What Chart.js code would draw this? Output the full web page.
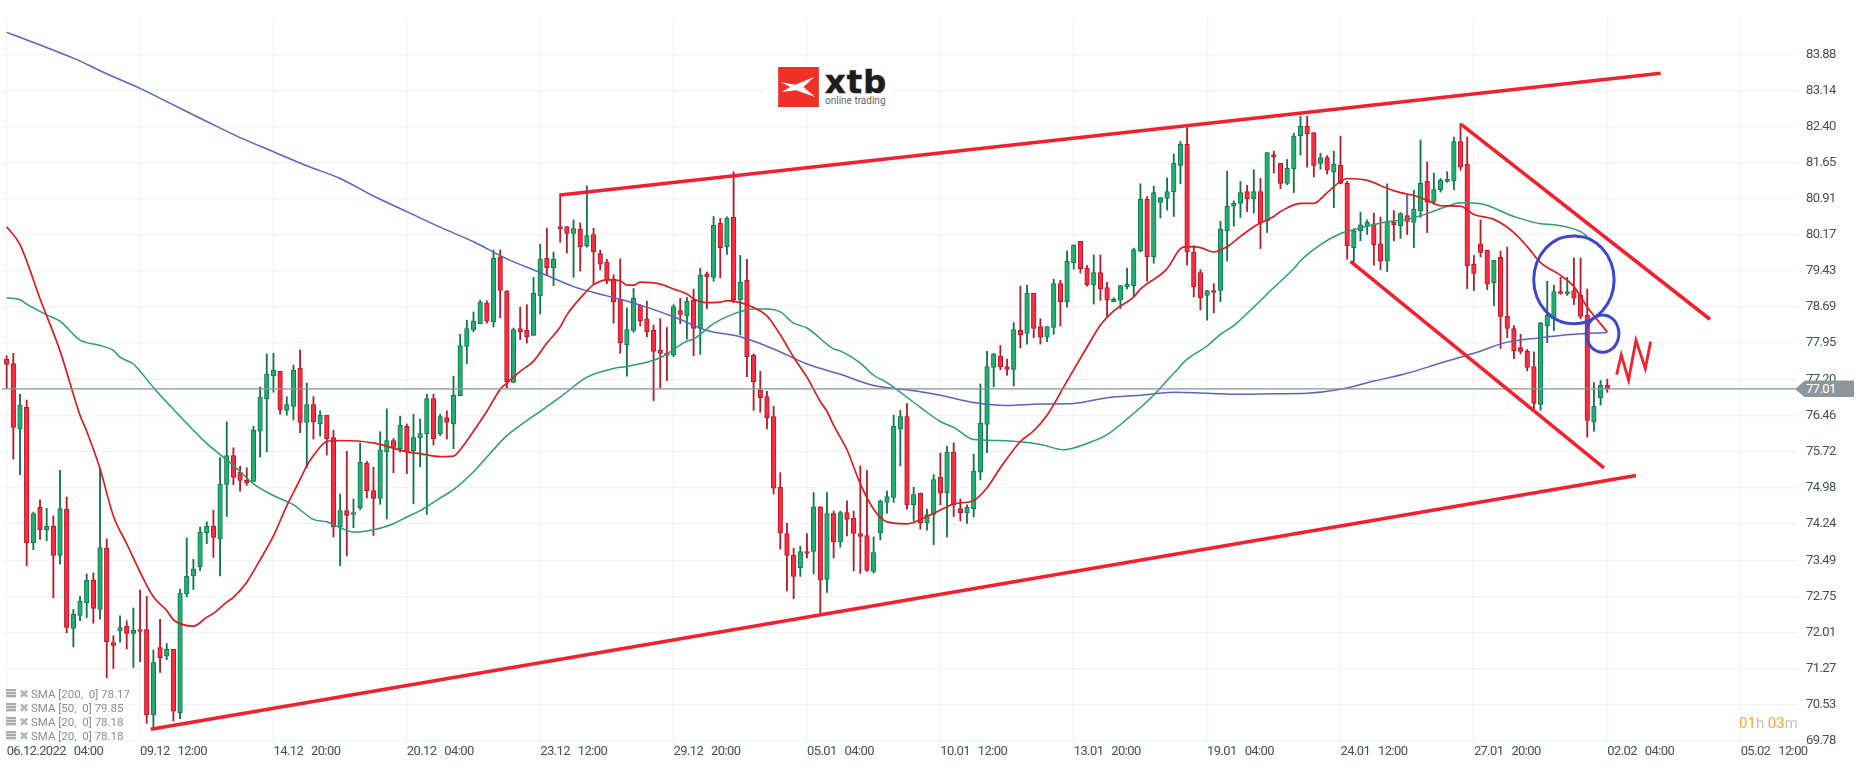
<!DOCTYPE html>
<html><head><meta charset="utf-8">
<script src="https://cdn.jsdelivr.net/npm/chart.js@4"></script>
<style>
html,body{margin:0;padding:0;background:#fff;overflow:hidden;font-family:Roboto,sans-serif}
#wrap{position:relative;width:1866px;height:767px}
canvas{position:absolute;left:0;top:0}
.abs{position:absolute;white-space:pre}
#legend div{position:absolute;left:6px;height:14px;font-size:11.5px;line-height:14px;color:#8d8d8d;white-space:pre}
#legend i{position:absolute;left:0;top:2px;width:10px;height:9px;background:repeating-linear-gradient(#aaa 0 2px,#e2e2e2 2px 3px)}
#legend b{position:absolute;left:13px;top:0;color:#b5b5b5;font:bold 12px "DejaVu Sans"}
#legend span{position:absolute;left:25px}
</style></head><body>
<div id="wrap">
<canvas id="c" width="1866" height="767"></canvas>
<div class="abs" style="left:765px;top:60px;width:128px;height:53px;background:#fff"></div>
<svg class="abs" style="left:778px;top:67px" width="41" height="40" viewBox="54 52 122 120"><rect x="54" y="52" width="122" height="120" fill="#ee3124"/><polygon points="62,97 105,105 162,82 130,112 165,142 108,122 65,127 90,112" fill="#fff"/></svg>
<div class="abs" style="left:825px;top:60px;font:bold 32px 'DejaVu Sans';color:#1d1d1b;line-height:44px;letter-spacing:1.2px;-webkit-text-stroke:.6px #1d1d1b">xtb</div>
<div class="abs" style="left:825px;top:95px;font:10px Roboto;color:#666;line-height:12px">online trading</div>
<div id="legend" class="abs" style="left:0;top:0"></div>
<div id="tag" class="abs" style="left:1795px;width:59px;height:17px;background:#8d979a;clip-path:polygon(0 50%,10px 0,100% 0,100% 100%,10px 100%);color:#fff;font:13px/17px Roboto;letter-spacing:-.6px;padding-left:11px;box-sizing:border-box">77.01</div>
<div class="abs" style="left:1739px;top:715px;font:15px/16px Roboto;color:#c4c4c4"><span style="color:#ffa726">01</span>h <span style="color:#ffa726">03</span>m</div>
</div>
<script>
const opens=[77.62,77.53,76.19,76.63,73.85,74.58,74.12,74.19,73.59,74.54,
72.09,72.36,72.62,73.08,72.48,73.74,71.80,72.04,72.14,71.99,
72.07,72.07,70.32,71.70,71.52,71.66,70.36,72.80,73.17,73.36,
74.06,74.19,73.93,75.05,75.64,75.30,75.13,75.11,76.14,76.81,
77.28,77.37,76.57,76.65,77.43,76.32,76.69,76.29,76.47,76.01,
74.18,74.51,74.43,74.57,75.48,74.92,74.76,75.72,75.95,75.78,
76.24,75.74,76.01,76.09,76.81,76.09,76.42,76.29,76.87,77.88,
78.22,78.35,78.77,78.39,79.71,79.02,77.14,78.25,78.21,78.11,
78.92,79.69,79.50,80.34,80.34,80.20,80.29,79.95,80.18,79.79,
79.61,79.27,78.85,77.92,78.21,78.73,78.45,78.21,77.80,77.74,
77.71,78.62,78.51,78.83,78.25,79.37,79.30,80.41,79.93,80.53,
78.84,79.24,77.70,76.99,76.85,76.44,74.99,74.04,73.59,73.34,
73.67,73.67,74.59,73.10,74.45,73.87,74.47,74.35,74.04,74.00,
73.26,74.06,74.68,74.78,76.19,76.44,74.63,74.87,74.26,74.43,
75.20,74.88,75.71,74.55,74.47,74.55,75.30,76.28,77.45,77.68,
77.47,77.41,78.21,78.15,78.97,78.29,78.07,78.27,79.17,78.80,
79.60,80.04,79.49,79.15,79.40,79.09,78.80,78.83,79.11,79.13,
79.85,80.90,79.72,80.84,80.92,81.06,81.60,82.03,79.82,79.40,
78.93,79.03,79.03,80.26,80.76,80.82,81.06,80.91,81.06,80.46,
81.82,81.64,81.23,81.53,82.21,82.40,82.27,81.64,81.76,81.46,
81.60,81.23,79.91,80.26,80.35,80.40,79.99,79.63,80.43,80.36,
80.57,80.43,80.67,81.27,80.86,81.10,81.27,81.28,82.09,81.62,
79.57,79.99,79.86,79.19,79.71,78.50,78.25,77.86,77.78,77.47,
76.69,78.31,78.45,79.01,78.96,79.03,78.93,78.52,76.33,76.83,
77.09];
const closes=[77.51,76.22,76.67,73.85,74.45,74.12,74.19,73.59,74.55,72.11,
72.38,72.65,73.08,72.50,73.75,71.82,71.74,72.11,71.99,72.05,
72.03,70.32,71.39,71.49,71.66,70.39,72.81,73.16,73.31,74.07,
74.19,73.96,75.05,75.64,75.19,75.13,75.08,76.16,76.84,77.31,
77.39,76.58,76.69,77.39,76.32,76.69,76.33,76.47,75.99,74.18,
74.51,74.41,74.47,75.50,74.92,74.76,75.76,75.95,75.81,76.26,
75.72,76.01,76.09,76.81,75.99,76.44,76.32,76.88,77.90,78.25,
78.40,78.79,78.40,79.69,79.03,77.16,78.23,78.18,78.08,78.97,
79.67,79.50,79.67,80.30,80.20,80.30,79.93,80.16,79.82,79.57,
79.25,78.80,77.96,78.23,78.87,78.41,78.18,77.78,77.74,77.70,
78.70,78.54,78.81,78.25,79.34,79.31,80.37,79.91,80.51,78.84,
79.21,77.67,77.16,76.83,76.42,74.97,74.06,73.59,73.16,73.67,
73.63,74.59,73.08,74.45,73.87,74.47,74.33,74.04,73.98,73.28,
73.65,74.70,74.80,76.24,76.44,74.63,74.84,74.26,74.43,75.15,
74.87,75.71,74.63,74.47,74.58,75.32,76.30,77.47,77.72,77.46,
77.41,78.23,78.12,78.97,78.25,78.07,78.29,79.17,78.80,79.63,
79.96,79.48,79.15,79.40,79.06,78.83,78.85,79.13,79.16,79.87,
80.90,79.72,81.04,80.94,81.06,81.64,82.03,79.82,79.11,78.88,
79.03,78.99,80.29,80.76,80.82,81.04,80.91,81.06,80.42,81.86,
81.78,81.23,81.54,82.20,82.40,82.25,81.60,81.76,81.50,81.62,
81.23,79.95,80.26,80.38,80.43,79.97,79.64,80.44,80.38,80.61,
80.45,80.70,81.23,80.84,81.10,81.29,81.31,82.09,81.56,79.54,
79.38,79.81,79.16,79.65,78.50,78.25,77.79,77.78,77.45,76.71,
78.36,78.52,79.01,78.97,79.01,78.87,78.50,76.36,76.65,77.09,
77.01];
const highs=[77.69,77.74,76.90,76.78,74.48,74.73,74.56,74.40,75.34,74.79,
72.48,72.75,73.21,73.23,75.39,73.93,71.94,72.35,72.25,72.51,
72.88,72.75,71.65,72.28,71.78,71.66,72.90,73.95,73.51,74.17,
74.28,74.52,75.60,76.33,75.80,75.42,75.39,76.24,77.05,77.73,
77.74,77.37,76.85,77.50,77.81,77.13,76.85,76.56,76.47,76.16,
74.85,75.73,74.75,75.90,75.52,75.40,76.13,76.60,75.99,76.45,
76.29,76.49,76.39,76.90,76.90,76.49,76.56,77.27,78.13,78.42,
78.59,78.83,78.82,79.86,79.86,79.03,78.26,78.69,78.74,79.30,
79.98,80.31,79.82,81.02,80.34,80.48,80.42,81.18,80.31,79.86,
79.67,79.35,79.68,78.67,79.07,78.74,78.81,78.32,78.45,78.27,
78.74,78.87,78.89,79.06,79.49,79.41,80.55,80.51,80.54,81.47,
79.75,79.67,77.73,77.37,76.96,76.65,75.29,74.25,73.74,73.78,
74.04,74.88,74.59,74.88,74.50,74.50,74.71,74.50,75.43,75.34,
73.97,74.73,74.91,76.47,76.57,76.71,74.99,74.87,74.54,75.25,
75.69,75.83,75.90,74.75,74.63,75.67,77.11,77.78,77.74,77.90,
77.62,78.37,79.12,79.14,78.97,78.45,78.29,79.26,79.24,79.84,
79.97,80.04,79.54,79.76,79.76,79.20,78.88,79.13,79.49,79.90,
81.22,80.96,81.17,80.94,81.34,81.83,82.09,82.41,79.95,79.46,
79.03,79.17,80.45,81.48,80.87,81.27,81.19,81.51,81.33,81.86,
81.89,81.64,81.72,82.26,82.61,82.61,82.27,81.85,81.80,81.89,
82.20,81.27,80.30,80.64,80.48,80.62,80.54,81.22,80.67,80.63,
80.99,81.09,82.12,81.67,81.44,81.33,81.47,82.18,82.46,82.18,
79.75,80.48,79.86,79.65,79.84,79.92,78.31,78.13,77.82,77.77,
78.38,79.22,79.14,79.30,79.30,79.70,79.70,79.06,77.14,77.18,
77.21];
const lows=[77.03,75.57,75.25,73.38,73.71,73.92,73.89,72.72,73.41,72.00,
71.71,72.25,72.31,72.20,72.28,71.08,71.27,71.81,71.67,71.29,
71.41,70.14,70.03,71.19,71.45,70.19,70.24,72.74,72.89,73.28,
73.83,73.55,73.17,74.39,75.04,74.91,75.03,75.10,75.61,75.72,
76.94,76.49,76.47,76.37,76.11,75.39,75.98,76.04,75.65,73.97,
73.38,73.58,74.16,74.53,74.77,74.00,74.64,74.34,75.29,75.71,
75.27,74.65,75.41,74.43,75.86,76.05,75.98,75.78,76.87,77.53,
78.18,78.35,78.36,78.28,78.47,77.03,77.14,78.02,77.95,78.11,
78.55,79.34,79.13,80.02,79.80,79.30,79.43,79.92,79.15,79.45,
79.17,78.36,77.74,77.27,78.17,78.30,78.08,76.77,77.03,77.18,
77.67,78.35,78.03,77.69,77.72,78.66,79.22,79.29,79.77,78.78,
78.12,77.26,76.57,76.53,76.19,74.85,73.72,72.86,72.70,73.16,
73.54,73.21,72.41,72.83,73.54,73.76,73.99,73.27,73.22,73.26,
73.23,73.91,74.46,74.68,75.43,74.54,74.30,74.13,74.11,73.81,
74.63,73.97,74.39,74.30,74.25,74.38,75.14,75.70,77.05,77.40,
77.29,77.07,77.85,77.93,78.06,77.93,77.98,78.13,78.30,78.69,
79.47,79.39,79.12,78.75,78.83,78.49,78.80,78.66,79.06,78.89,
79.82,79.22,79.59,80.52,80.68,80.55,81.22,79.55,78.90,78.63,
78.42,78.57,78.80,79.64,80.35,80.53,80.65,80.62,79.89,80.22,
81.44,81.12,81.20,81.04,81.81,81.56,81.36,81.52,81.42,80.73,
81.22,79.67,79.62,80.05,80.18,79.55,79.46,79.42,80.05,80.10,
80.18,79.91,80.53,80.22,80.80,81.05,81.25,81.10,81.50,79.07,
79.03,79.72,79.05,78.72,77.84,78.06,77.63,77.73,77.38,76.59,
76.57,77.96,78.21,78.95,78.93,78.74,78.45,76.02,76.14,76.68,
76.94];
const sma20Idx=[0,2,5,8,11,12,14,16,18,20,22,24,25,28,30,31,33,34,36,38,40,42,44,45,46,48,50,55,60,62,65,67,68,70,72,74,75,77,79,81,83,84,87,88,90,92,93,94,95,98,100,102,103,105,107,108,110,112,114,116,118,120,122,123,124,126,128,130,132,135,138,141,142,145,147,149,152,154,156,159,162,164,166,169,170,174,176,177,179,181,183,185,187,190,191,194,196,198,200,201,204,207,209,211,213,215,218,220,223,226,228,230,233,235,237,240];
const sma20=[80.34,79.97,78.86,77.79,76.47,76.14,75.37,74.40,73.83,73.25,72.74,72.46,72.27,72.14,72.32,72.40,72.63,72.73,73.04,73.50,73.99,74.61,75.15,75.43,75.64,75.93,75.95,75.90,75.72,75.68,75.62,75.63,75.76,76.14,76.55,77.00,77.13,77.37,77.58,77.95,78.28,78.53,79.02,79.15,79.25,79.23,79.14,79.14,79.20,79.16,79.06,78.96,78.86,78.78,78.79,78.82,78.78,78.68,78.51,78.12,77.66,77.25,76.75,76.55,76.26,75.76,75.06,74.54,74.28,74.24,74.39,74.59,74.65,74.72,74.98,75.39,75.93,76.15,76.47,77.17,77.87,78.32,78.61,78.90,79.06,79.48,79.89,79.93,79.91,79.82,79.93,80.14,80.34,80.55,80.65,80.82,80.82,81.04,81.27,81.33,81.29,81.13,81.04,80.98,80.88,80.77,80.76,80.59,80.49,80.22,79.93,79.60,79.34,79.11,78.69,78.18];
const sma50Idx=[0,2,3,6,8,11,12,14,16,17,19,20,22,25,30,32,34,37,40,43,46,48,50,52,56,58,60,62,65,67,70,75,77,80,83,87,91,93,98,102,103,106,109,112,114,116,118,120,124,125,128,130,132,137,140,142,145,149,155,158.5,162,165,169,171,175,177,180,182,184,187,190,193,194,197,200,202,207,210,213,216,218,221,226,230,232,236,237];
const sma50=[78.88,78.84,78.75,78.53,78.40,78.01,77.96,77.90,77.80,77.66,77.52,77.37,77.04,76.59,75.89,75.66,75.44,75.06,74.82,74.63,74.33,74.28,74.16,74.07,74.15,74.24,74.38,74.51,74.77,74.94,75.31,76.05,76.26,76.55,76.84,77.25,77.43,77.47,77.65,77.99,78.03,78.35,78.55,78.65,78.65,78.59,78.36,78.26,77.83,77.79,77.54,77.29,77.14,76.63,76.34,76.22,75.97,75.95,75.87,75.76,75.89,76.07,76.51,76.75,77.33,77.62,77.89,78.13,78.31,78.69,79.09,79.48,79.64,79.97,80.20,80.28,80.44,80.49,80.61,80.76,80.83,80.81,80.55,80.40,80.38,80.24,80.14];
const sma200Idx=[0,5,10,15,20,25,30,35,40,45,50,55,60,65,70,75,80,85,90,95,100,105,110,115,120,125,130,135,140,145,150,155,160,165,170,175,180,185,190,195,200,205,210,215,220,225,230,235,240];
const sma200=[84.33,84.07,83.80,83.48,83.18,82.84,82.50,82.17,81.88,81.59,81.33,80.97,80.65,80.33,80.03,79.68,79.40,79.11,78.92,78.73,78.49,78.21,78.08,77.83,77.52,77.31,77.08,76.99,76.88,76.73,76.67,76.70,76.71,76.83,76.88,76.94,76.92,76.90,76.91,76.92,77.00,77.17,77.33,77.54,77.74,77.97,78.06,78.13,78.17];
const channelUpX=[83,248],channelUpY=[80.99,83.49];
const channelLowX=[21.6,244.3],channelLowY=[70.02,75.23];
const wedgeLowX=[201.5,239.5],wedgeLowY=[79.63,75.39];
const wedgeUpX=[218.1,255.4],wedgeUpY=[82.44,78.44];
const bigCircleX=[235.0,237.31,239.26,240.57,241.03,240.57,239.26,237.31,235.0,232.69,230.74,229.43,228.97,229.43,230.74,232.69,235.0];
const bigCircleY=[80.155,80.09,79.89,79.60,79.25,78.90,78.61,78.41,78.345,78.41,78.61,78.90,79.25,79.60,79.89,80.09,80.155];
const smallCircleX=[239.3,240.24,241.03,241.56,241.75,241.56,241.03,240.24,239.3,238.36,237.57,237.04,236.85,237.04,237.57,238.36,239.3];
const smallCircleY=[78.53,78.50,78.42,78.29,78.145,78.0,77.87,77.79,77.76,77.79,77.87,78.0,78.145,78.29,78.42,78.50,78.53];
const scribbleX=[241.4,242.1,243.2,244.3,245.7,246.5];
const scribbleY=[77.30,77.71,77.19,78.01,77.43,77.98];
const blueWickX=[210,210],blueWickY=[80.99,80.57];
const lastPrice=77.01;
const yTicks=[83.88,83.14,82.40,81.65,80.91,80.17,79.43,78.69,77.95,77.20,76.46,75.72,74.98,74.24,73.49,72.75,72.01,71.27,70.53,69.78];
const xTickIdx=[0,20,40,60,80,100,120,140,160,180,200,220,240,260];
const xLabels=["06.12.2022   04:00","09.12   12:00","14.12   20:00","20.12   04:00","23.12   12:00","29.12   20:00","05.01   04:00","10.01   12:00","13.01   20:00","19.01   04:00","24.01   12:00","27.01   20:00","02.02   04:00","05.02   12:00"];
const legendRows=["SMA [200,  0] 78.17","SMA [50,  0] 79.85","SMA [20,  0] 78.18","SMA [20,  0] 78.18"];
const X_MIN=-0.7,X_MAX=268.6,Y_MIN=69.78,Y_MAX=84.625;

const pts=(xs,ys)=>xs.map((x,i)=>({x,y:ys[i]}));
const up=opens.map((o,i)=>closes[i]>=o);
const line=(xs,ys,color,width,order,extra)=>Object.assign({type:'line',data:pts(xs,ys),borderColor:color,borderWidth:width,pointRadius:0,fill:false,order,tension:0},extra||{});
const smooth={cubicInterpolationMode:'monotone'};
const chart=new Chart(document.getElementById('c'),{
 type:'bar',
 data:{datasets:[
  {type:'bar',label:'wick',data:highs.map((h,i)=>({x:i,y:[lows[i],h]})),backgroundColor:up.map(u=>u?'#13754b':'#b0202f'),barThickness:1.2,grouped:false,order:20},
  {type:'bar',label:'body',data:opens.map((o,i)=>({x:i,y:[o,closes[i]]})),backgroundColor:up.map(u=>u?'#24ad72':'#fb2b40'),borderColor:up.map(u=>u?'#137a4d':'#b3192b'),borderWidth:1,borderSkipped:false,barThickness:4.6,grouped:false,order:19},
  line(blueWickX,blueWickY,'#1e90ff',1.3,15),
  line(sma200Idx,sma200,'#5a64bf',1.5,12,smooth),
  line(sma50Idx,sma50,'#2c9c78',1.5,11,smooth),
  line(sma20Idx,sma20,'#dd1c22',1.7,10,smooth),
  line([X_MIN,X_MAX],[lastPrice,lastPrice],'#8a9194',1.2,9),
  line(channelUpX,channelUpY,'#f5202e',3.6,5),
  line(channelLowX,channelLowY,'#f5202e',3.6,5),
  line(wedgeLowX,wedgeLowY,'#f5202e',3.6,5),
  line(wedgeUpX,wedgeUpY,'#f5202e',3.6,5),
  line(scribbleX,scribbleY,'#f5202e',2.8,5),
  line(bigCircleX,bigCircleY,'#3d46cd',3,4,{tension:0.4}),
  line(smallCircleX,smallCircleY,'#3d46cd',3,4,{tension:0.4}),
 ]},
 plugins:[{id:'tightText',beforeDraw:c=>{c.ctx.letterSpacing='-0.6px';}}],
 options:{
  responsive:false,animation:false,devicePixelRatio:1,
  layout:{padding:{left:2,top:18,right:0,bottom:0}},
  plugins:{legend:{display:false},tooltip:{enabled:false},title:{display:false}},
  scales:{
   x:{type:'linear',position:'bottom',min:X_MIN,max:X_MAX,offset:false,
     grid:{color:'#f2f3f4',lineWidth:1.2,offset:false,drawTicks:false},border:{display:false},
     afterBuildTicks:s=>{s.ticks=xTickIdx.map(v=>({value:v}));},
     afterFit:s=>{s.height=26;},
     ticks:{autoSkip:false,maxRotation:0,minRotation:0,align:'start',padding:3,color:'#465056',font:{family:'Roboto',size:13},callback:(v,i)=>xLabels[i]}},
   y:{type:'linear',position:'right',min:Y_MIN,max:Y_MAX,
     grid:{color:'#f2f3f4',lineWidth:1.2,drawTicks:false},border:{display:false},
     afterBuildTicks:s=>{s.ticks=yTicks.map(v=>({value:v}));},
     afterFit:s=>{s.width=68;},
     ticks:{autoSkip:false,padding:8,color:'#465056',font:{family:'Roboto',size:13},callback:v=>Number(v).toFixed(2)}}
  }
 }
});
document.getElementById('tag').style.top=(chart.scales.y.getPixelForValue(lastPrice)-8.5)+'px';
const lg=document.getElementById('legend');
legendRows.forEach((t,i)=>{const d=document.createElement('div');d.style.top=(687+i*14)+'px';d.innerHTML='<i></i><b>✖</b><span></span>';d.querySelector('span').textContent=t;lg.appendChild(d);});
</script>
</body></html>
